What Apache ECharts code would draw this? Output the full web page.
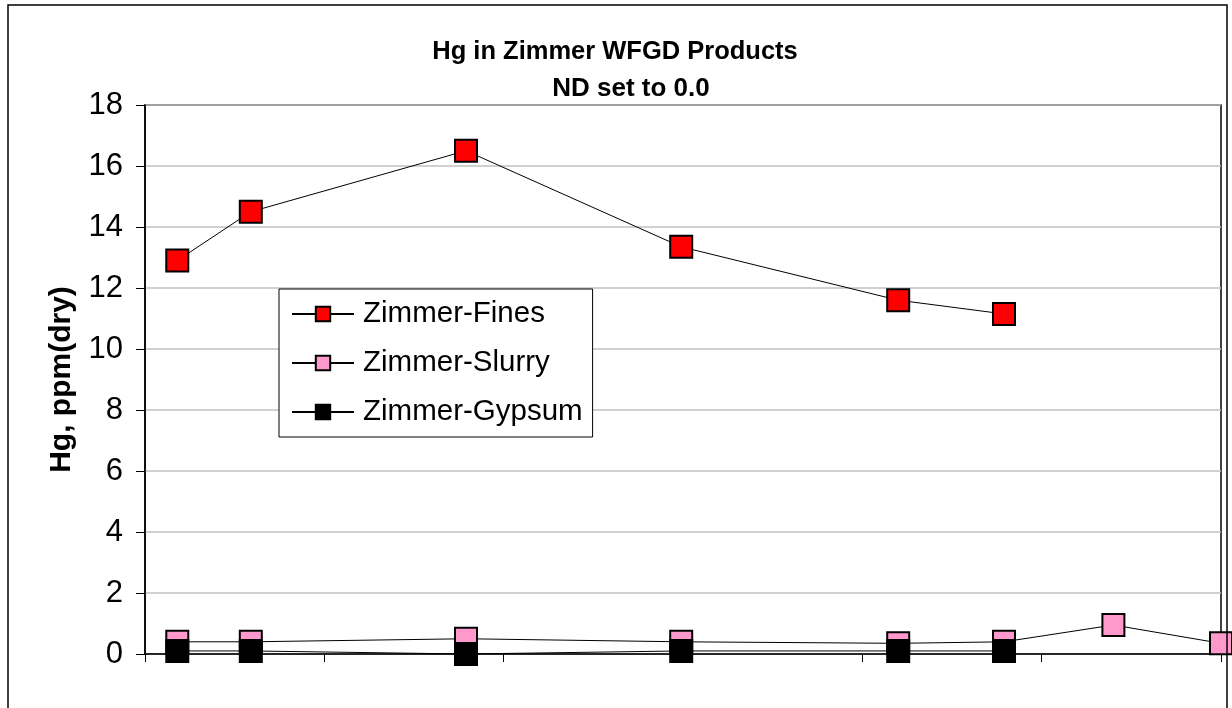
<!DOCTYPE html>
<html>
<head>
<meta charset="utf-8">
<script src="https://cdn.jsdelivr.net/npm/echarts@6/dist/echarts.min.js"></script>
<style>
html,body{margin:0;padding:0;background:#fff;}
#chart{width:1232px;height:708px;}
</style>
</head>
<body>
<div id="chart"></div>
<script>
// ---- data ----
const titleLines = ['Hg in Zimmer WFGD Products', 'ND set to 0.0'];
const yAxisName = 'Hg, ppm(dry)';
const seriesNames = ['Zimmer-Fines', 'Zimmer-Slurry', 'Zimmer-Gypsum'];
const finesX = [0.18, 0.59, 1.79, 2.99, 4.2, 4.79];
const finesY = [12.9, 14.5, 16.5, 13.35, 11.6, 11.15];
const slurryX = [0.18, 0.59, 1.79, 2.99, 4.2, 4.79, 5.4, 6.0];
const slurryY = [0.4, 0.4, 0.5, 0.4, 0.35, 0.4, 0.95, 0.35];
const gypsumX = [0.18, 0.59, 1.79, 2.99, 4.2, 4.79];
const gypsumY = [0.1, 0.1, 0.0, 0.1, 0.1, 0.1];
const yTicks = [0, 2, 4, 6, 8, 10, 12, 14, 16, 18];

function pairs(xs, ys) { return xs.map((x, i) => [x, ys[i]]); }

const FONT = '"Liberation Sans", Arial, sans-serif';
const chart = echarts.init(document.getElementById('chart'), null, {renderer: 'canvas'});

function lineSeries(name, xs, ys, color, z) {
  return {
    name: name,
    type: 'line',
    data: pairs(xs, ys),
    symbol: 'rect',
    symbolSize: 22,
    showAllSymbol: true,
    z: z,
    lineStyle: {color: '#000', width: 1},
    itemStyle: {color: color, borderColor: '#000', borderWidth: 2},
    emphasis: {disabled: true},
    animation: false
  };
}

chart.setOption({
  animation: false,
  backgroundColor: '#fff',
  textStyle: {fontFamily: FONT},
  title: [
    {text: titleLines[0], left: 610, top: 34, textAlign: 'center',
     textStyle: {fontFamily: FONT, fontWeight: 'bold', fontSize: 25.5, color: '#000'}},
    {text: titleLines[1], left: 626, top: 71, textAlign: 'center',
     textStyle: {fontFamily: FONT, fontWeight: 'bold', fontSize: 26, color: '#000'}}
  ],
  grid: {left: 145, right: 11, top: 105, bottom: 54, show: true, borderColor: '#000', borderWidth: 1.5, backgroundColor: 'transparent'},
  legend: {
    orient: 'vertical',
    left: 279, top: 289,
    padding: [10, 10, 10, 12],
    itemGap: 19,
    itemWidth: 62,
    itemHeight: 18,
    backgroundColor: '#fff',
    borderColor: '#000',
    borderWidth: 1,
    borderRadius: 0,
    textStyle: {fontFamily: FONT, fontSize: 29.5, color: '#000', padding: [0, 0, 0, 4]},
    data: seriesNames
  },
  xAxis: {
    type: 'value', min: 0, max: 6, interval: 1,
    axisLine: {show: true, onZero: false, lineStyle: {color: '#000', width: 1.5}},
    axisTick: {show: true, inside: false, length: 8, lineStyle: {color: '#000', width: 1}},
    axisLabel: {show: false},
    splitLine: {show: false}
  },
  yAxis: {
    type: 'value', min: 0, max: 18, interval: 2,
    name: yAxisName,
    nameLocation: 'middle',
    nameGap: 68,
    nameRotate: 90,
    nameTextStyle: {fontFamily: FONT, fontWeight: 'bold', fontSize: 30, color: '#000'},
    axisLine: {show: true, lineStyle: {color: '#000', width: 1.5}},
    axisTick: {show: true, inside: false, length: 9, lineStyle: {color: '#000', width: 1}},
    axisLabel: {fontFamily: FONT, fontSize: 31, color: '#000', margin: 22,
      formatter: v => (yTicks.indexOf(v) >= 0 ? String(v) : '')},
    splitLine: {show: true, lineStyle: {color: '#c0c0c0', width: 1.5}}
  },
  graphic: [
    {type: 'rect', shape: {x: 8, y: 5, width: 1219, height: 720},
     style: {fill: null, stroke: '#000', lineWidth: 1.5}, z: 100, silent: true}
  ],
  series: [
    lineSeries(seriesNames[0], finesX, finesY, '#ff0000', 2),
    lineSeries(seriesNames[1], slurryX, slurryY, '#ff99cc', 3),
    lineSeries(seriesNames[2], gypsumX, gypsumY, '#000000', 4)
  ]
});
</script>
</body>
</html>
